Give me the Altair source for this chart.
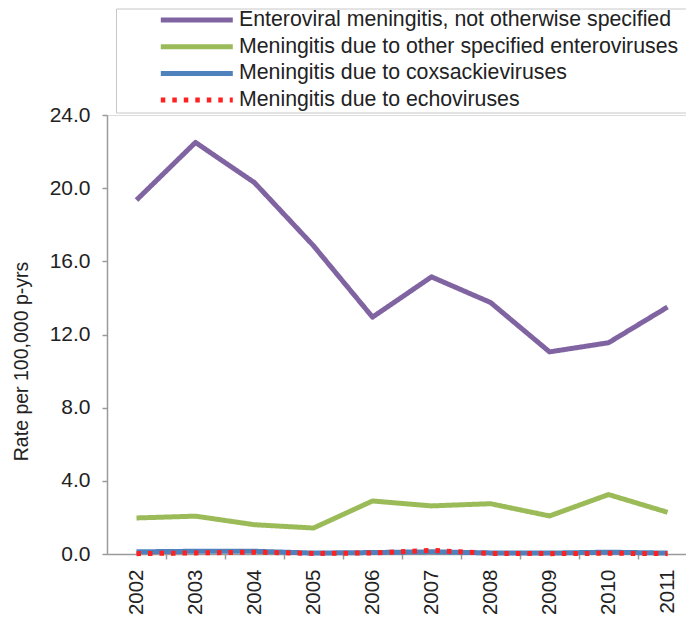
import altair as alt
import pandas as pd

years = [2002, 2003, 2004, 2005, 2006, 2007, 2008, 2009, 2010, 2011]
series_names = [
    "Enteroviral meningitis, not otherwise specified",
    "Meningitis due to other specified enteroviruses",
    "Meningitis due to coxsackieviruses",
    "Meningitis due to echoviruses",
]
enteroviral_nos = [19.35, 22.5, 20.3, 16.85, 12.95, 15.15, 13.75, 11.05, 11.55, 13.5]
other_specified = [1.97, 2.07, 1.60, 1.42, 2.90, 2.63, 2.75, 2.08, 3.25, 2.28]
coxsackie = [0.12, 0.15, 0.15, 0.05, 0.08, 0.12, 0.06, 0.05, 0.10, 0.05]
echo = [0.02, 0.06, 0.10, 0.03, 0.06, 0.20, 0.03, 0.02, 0.04, 0.02]
y_ticks = [0, 4, 8, 12, 16, 20, 24]

colors = ["#8064A2", "#9BBB59", "#4F81BD", "#FF2020"]
dashes = [[1, 0], [1, 0], [1, 0], [4.5, 7]]

rows = []
for name, vals in zip(series_names, [enteroviral_nos, other_specified, coxsackie, echo]):
    for yr, v in zip(years, vals):
        rows.append({"year": yr, "rate": v, "series": name})
df = pd.DataFrame(rows)

FONT = "Liberation Sans"
TXT = "#222222"
AX = "#9A9A9A"

legend = alt.Legend(
    title="\u00a0", titleOrient="right", titlePadding=30, titleFontSize=19,
    orient="none", legendX=9, legendY=-106.5,
    padding=0, strokeColor="#C8C8C8", fillColor="white",
    symbolType="stroke", symbolSize=5184, symbolStrokeWidth=5,
    symbolOffset=42.3, labelOffset=3.7, clipHeight=23, rowPadding=3.7,
    labelFontSize=21.3, labelFont=FONT, labelColor=TXT, labelLimit=700,
)

chart = alt.Chart(df).mark_line(strokeWidth=5, strokeCap="butt", strokeJoin="round").encode(
    x=alt.X("year:Q",
            scale=alt.Scale(domain=[2001.5, 2011.313], nice=False, zero=False),
            axis=alt.Axis(values=years, format="d", title=None, labelAngle=270,
                          tickOffset=29.5, labelOffset=-29.5, labelPadding=10,
                          tickSize=5, grid=False, labelFontSize=20.5, labelFont=FONT,
                          labelColor=TXT, domainColor=AX, tickColor=AX,
                          domainWidth=1.5, tickWidth=1.5)),
    y=alt.Y("rate:Q",
            scale=alt.Scale(domain=[0, 24], nice=False),
            axis=alt.Axis(values=y_ticks, format=".1f", title="Rate per 100,000 p-yrs",
                          titleFontSize=19.5, titleFontWeight="normal", titleFont=FONT,
                          titleColor=TXT, titleX=-86, titleY=246, titleBaseline="middle",
                          labelPadding=12, tickSize=5,
                          grid=False, labelFontSize=21, labelFont=FONT, labelColor=TXT,
                          domainColor=AX, tickColor=AX, domainWidth=1.5, tickWidth=1.5)),
    color=alt.Color("series:N", scale=alt.Scale(domain=series_names, range=colors), legend=legend),
    strokeDash=alt.StrokeDash("series:N", scale=alt.Scale(domain=series_names, range=dashes), legend=legend),
).properties(
    width=579, height=439,
    autosize=alt.AutoSizeParams(type="none"),
    padding={"left": 99, "top": 107, "right": 0, "bottom": 60},
).configure_view(stroke=None).configure(font=FONT)

chart.save("out.html", embed_options={"renderer": "svg", "actions": False})
